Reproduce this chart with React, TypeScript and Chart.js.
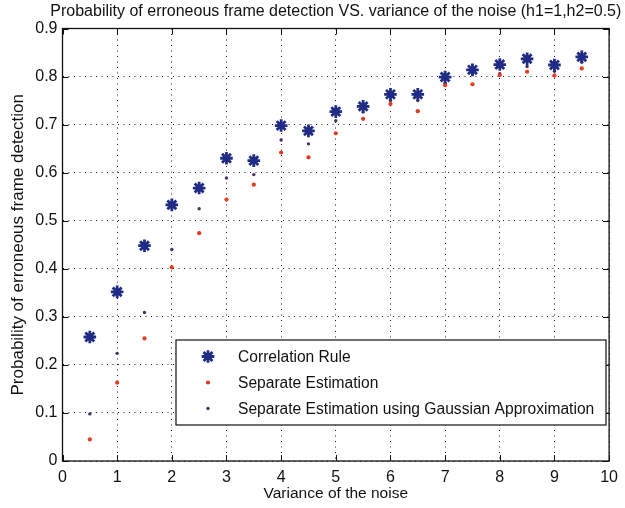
import React, { useEffect, useRef } from "react";
import { Chart, registerables } from "chart.js";
import { drawPoint } from "chart.js/helpers";

Chart.register(...registerables);

// Noise variance values on the x axis
const variance = [0.5, 1, 1.5, 2, 2.5, 3, 3.5, 4, 4.5, 5, 5.5, 6, 6.5, 7, 7.5, 8, 8.5, 9, 9.5];

// Probability of erroneous frame detection per method
const correlationRule = [0.258, 0.352, 0.448, 0.533, 0.568, 0.63, 0.625, 0.698, 0.687, 0.727, 0.738, 0.763, 0.763, 0.799, 0.814, 0.825, 0.837, 0.824, 0.841];
const separateEstimation = [0.045, 0.163, 0.255, 0.403, 0.474, 0.544, 0.575, 0.642, 0.632, 0.682, 0.712, 0.743, 0.728, 0.782, 0.784, 0.803, 0.81, 0.802, 0.817];
const gaussianApprox = [0.098, 0.224, 0.309, 0.44, 0.525, 0.589, 0.596, 0.668, 0.66, 0.708, 0.726, 0.75, 0.75, 0.786, 0.806, 0.806, 0.821, 0.811, 0.83];

const seriesLabels = [
  "Correlation Rule",
  "Separate Estimation",
  "Separate Estimation using Gaussian Approximation",
];

const chartTitle = "Probability of erroneous frame detection VS. variance of the noise (h1=1,h2=0.5)";
const xTitle = "Variance of the noise";
const yTitle = "Probability of erroneous frame detection";

const FONT = "'Liberation Sans', Arial, Helvetica, sans-serif";
const INK = "#111111";

const toPoints = (ys: number[]) => variance.map((x, i) => ({ x, y: ys[i] }));

// Title, box frame, inward tick marks and the inset legend
const decorations = {
  id: "decorations",
  afterDatasetsDraw(chart: any) {
    const { ctx, chartArea: a, scales } = chart;
    const xs = scales.x;
    const ys = scales.y;
    ctx.save();

    // frame
    ctx.strokeStyle = INK;
    ctx.lineWidth = 1.3;
    ctx.setLineDash([]);
    ctx.strokeRect(a.left, a.top, a.right - a.left, a.bottom - a.top);

    // inward tick marks on all four sides
    const tl = 6;
    ctx.lineWidth = 1;
    ctx.beginPath();
    xs.ticks.forEach((t: any) => {
      const px = Math.round(xs.getPixelForValue(t.value)) + 0.5;
      ctx.moveTo(px, a.bottom);
      ctx.lineTo(px, a.bottom - tl);
      ctx.moveTo(px, a.top);
      ctx.lineTo(px, a.top + tl);
    });
    ys.ticks.forEach((t: any) => {
      const py = Math.round(ys.getPixelForValue(t.value)) + 0.5;
      ctx.moveTo(a.left, py);
      ctx.lineTo(a.left + tl, py);
      ctx.moveTo(a.right, py);
      ctx.lineTo(a.right - tl, py);
    });
    ctx.stroke();

    // chart title
    ctx.fillStyle = INK;
    ctx.font = `16px ${FONT}`;
    ctx.textAlign = "center";
    ctx.textBaseline = "middle";
    ctx.fillText(chartTitle, (a.left + a.right) / 2, 12);

    // legend box
    const bx = a.left + 113.5;
    const by = a.top + 311.5;
    const bw = 430;
    const bh = 85;
    ctx.fillStyle = "#ffffff";
    ctx.fillRect(bx, by, bw, bh);
    ctx.strokeStyle = INK;
    ctx.lineWidth = 1.2;
    ctx.strokeRect(bx, by, bw, bh);

    ctx.font = `15.6px ${FONT}`;
    ctx.textAlign = "left";
    chart.data.datasets.forEach((ds: any, i: number) => {
      const ry = by + 16.5 + i * 26;
      ctx.fillStyle = ds.backgroundColor;
      ctx.strokeStyle = ds.borderColor;
      ctx.lineWidth = ds.borderWidth || 1;
      drawPoint(ctx, {
        pointStyle: ds.pointStyle,
        radius: ds.pointRadius,
        rotation: 0,
        borderWidth: ds.borderWidth,
      }, bx + 32, ry);
      ctx.fillStyle = INK;
      ctx.fillText(ds.label, bx + 62, ry + 1);
    });

    ctx.restore();
  },
};

export default function App() {
  const ref = useRef<HTMLCanvasElement | null>(null);

  useEffect(() => {
    if (!ref.current) return;
    const chart = new Chart(ref.current, {
      type: "scatter",
      data: {
        datasets: [
          {
            label: seriesLabels[0],
            data: toPoints(correlationRule),
            pointStyle: "star",
            pointRadius: 6.3,
            borderWidth: 2.8,
            borderColor: "#1f2b85",
            backgroundColor: "#1f2b85",
          },
          {
            label: seriesLabels[1],
            data: toPoints(separateEstimation),
            pointStyle: "circle",
            pointRadius: 2.1,
            borderWidth: 0,
            borderColor: "#e8391f",
            backgroundColor: "#e8391f",
          },
          {
            label: seriesLabels[2],
            data: toPoints(gaussianApprox),
            pointStyle: "circle",
            pointRadius: 1.7,
            borderWidth: 0,
            borderColor: "#4b2f62",
            backgroundColor: "#4b2f62",
          },
        ] as any,
      },
      options: {
        responsive: false,
        animation: false,
        devicePixelRatio: 1,
        layout: { padding: { top: 28.5, right: 11, left: 0, bottom: 0 } },
        plugins: {
          legend: { display: false },
          tooltip: { enabled: false },
          title: { display: false },
        },
        scales: {
          x: {
            type: "linear",
            min: 0,
            max: 10,
            ticks: { stepSize: 1, padding: 7, color: INK, font: { family: FONT, size: 16 } },
            grid: { color: "#1a1a1a", lineWidth: 1, drawTicks: false },
            border: { display: false, dash: [1, 4.5] },
            title: {
              display: true,
              text: xTitle,
              color: INK,
              font: { family: FONT, size: 15.5 },
              padding: { top: 0, bottom: 4.5 },
            },
            afterFit: (s: any) => {
              s.height = 47;
            },
          },
          y: {
            type: "linear",
            min: 0,
            max: 0.9,
            ticks: { stepSize: 0.1, padding: 5, color: INK, font: { family: FONT, size: 16 } },
            grid: { color: "#1a1a1a", lineWidth: 1, drawTicks: false },
            border: { display: false, dash: [1, 4.5] },
            title: {
              display: true,
              text: yTitle,
              color: INK,
              font: { family: FONT, size: 17 },
              padding: { top: 8, bottom: 0 },
            },
            afterFit: (s: any) => {
              s.width = 62.5;
            },
          },
        },
      },
      plugins: [decorations],
    });
    return () => chart.destroy();
  }, []);

  return (
    <div style={{ position: "absolute", left: 0, top: 0, width: 625, height: 508, background: "#fff" }}>
      <canvas ref={ref} width={625} height={508} />
    </div>
  );
}
